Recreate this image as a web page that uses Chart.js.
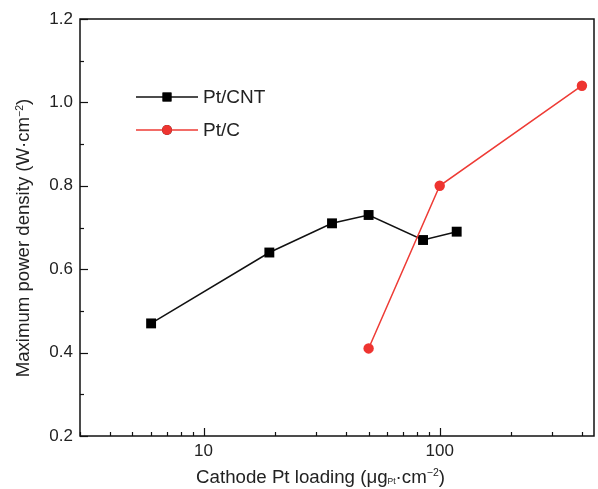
<!DOCTYPE html>
<html>
<head>
<meta charset="utf-8">
<script src="https://cdn.jsdelivr.net/npm/chart.js@4/dist/chart.umd.min.js"></script>
<style>
html,body{margin:0;padding:0;background:#fff;overflow:hidden;}
#wrap{width:598px;height:489px;position:relative;overflow:hidden;}
canvas{display:block;}
</style>
</head>
<body>
<div id="wrap"><canvas id="c" width="601" height="489"></canvas></div>
<script>
// Data
const cntLoading = [6, 19, 35, 50, 85, 118];
const cntPower   = [0.47, 0.64, 0.71, 0.73, 0.67, 0.69];
const cLoading   = [50, 100, 400];
const cPower     = [0.41, 0.80, 1.04];
const seriesNames = ['Pt/CNT', 'Pt/C'];
const xTickValues = [3,4,5,6,7,8,9,10,20,30,40,50,60,70,80,90,100,200,300,400];
const xLabelValues = [10, 100];
const yLabelValues = [0.2, 0.4, 0.6, 0.8, 1.0, 1.2];

const FONT = '"Liberation Sans", Arial, sans-serif';
const TXT = '#222';

const frameAndTicks = {
  id: 'frameAndTicks',
  afterDraw(chart) {
    const ctx = chart.ctx, a = chart.chartArea;
    const xs = chart.scales.x, ys = chart.scales.y;
    ctx.save();
    ctx.strokeStyle = '#111';
    ctx.lineWidth = 1.5;
    ctx.strokeRect(a.left, a.top, a.right - a.left, a.bottom - a.top);
    ctx.lineWidth = 1.2;
    xs.ticks.forEach(t => {
      const px = Math.round(xs.getPixelForValue(t.value)) + 0.5;
      const major = xLabelValues.includes(t.value);
      const len = major ? 8 : 4;
      ctx.beginPath();
      ctx.moveTo(px, a.bottom);
      ctx.lineTo(px, a.bottom - len);
      ctx.stroke();
    });
    ys.ticks.forEach(t => {
      const py = Math.round(ys.getPixelForValue(t.value)) + 0.5;
      const major = yLabelValues.some(v => Math.abs(v - t.value) < 1e-6);
      const len = major ? 8 : 4;
      ctx.beginPath();
      ctx.moveTo(a.left, py);
      ctx.lineTo(a.left + len, py);
      ctx.stroke();
    });
    // legend
    const ds = chart.data.datasets;
    const legY = [97, 130];
    const legR = [6.3, 5];
    ds.forEach((d, i) => {
      const y = legY[i];
      ctx.strokeStyle = d.borderColor;
      ctx.lineWidth = d.borderWidth;
      ctx.beginPath();
      ctx.moveTo(136, y);
      ctx.lineTo(198, y);
      ctx.stroke();
      Chart.helpers.drawPoint(ctx, {
        pointStyle: d.pointStyle, radius: legR[i], rotation: 0, borderWidth: 0
      }, 167, y);
      ctx.fillStyle = d.pointBackgroundColor;
      ctx.fill();
      ctx.fillStyle = TXT;
      ctx.font = '19px ' + FONT;
      ctx.textBaseline = 'middle';
      ctx.textAlign = 'left';
      ctx.fillText(d.label, 203, y + 1);
    });
    // x axis title with subscript
    const parts = [
      {t: 'Cathode Pt loading (\u03bcg', s: 18.7, dy: 0},
      {t: 'Pt', s: 8.5, dy: 1},
      {t: '\u00b7cm', s: 18.7, dy: 0},
      {t: '\u22122', s: 10.5, dy: -6.5},
      {t: ')', s: 18.7, dy: 0}
    ];
    let total = 0;
    parts.forEach(p => { ctx.font = p.s + 'px ' + FONT; total += ctx.measureText(p.t).width; });
    let x = 320.5 - total / 2;
    const by = 482.5;
    ctx.fillStyle = TXT;
    ctx.textBaseline = 'alphabetic';
    ctx.textAlign = 'left';
    parts.forEach(p => {
      ctx.font = p.s + 'px ' + FONT;
      ctx.fillText(p.t, x, by + p.dy);
      x += ctx.measureText(p.t).width;
    });
    // y axis title with superscript
    ctx.save();
    ctx.translate(29, 238);
    ctx.rotate(-Math.PI / 2);
    const yparts = [
      {t: 'Maximum power density (W\u00b7cm', s: 18.6, dy: 0},
      {t: '\u22122', s: 10.5, dy: -6.5},
      {t: ')', s: 18.6, dy: 0}
    ];
    total = 0;
    yparts.forEach(p => { ctx.font = p.s + 'px ' + FONT; total += ctx.measureText(p.t).width; });
    x = -total / 2;
    yparts.forEach(p => {
      ctx.font = p.s + 'px ' + FONT;
      ctx.fillText(p.t, x, p.dy);
      x += ctx.measureText(p.t).width;
    });
    ctx.restore();
    ctx.restore();
  }
};

new Chart(document.getElementById('c'), {
  type: 'scatter',
  data: {
    datasets: [
      {
        label: seriesNames[0],
        data: cntLoading.map((v, i) => ({x: v, y: cntPower[i]})),
        showLine: true,
        borderColor: '#111',
        borderWidth: 1.5,
        pointStyle: 'rect',
        pointRadius: 7,
        pointHoverRadius: 7,
        pointBackgroundColor: '#000',
        pointBorderWidth: 0,
        order: 2
      },
      {
        label: seriesNames[1],
        data: cLoading.map((v, i) => ({x: v, y: cPower[i]})),
        showLine: true,
        borderColor: '#ee3b35',
        borderWidth: 1.5,
        pointStyle: 'circle',
        pointRadius: 5.2,
        pointHoverRadius: 5.2,
        pointBackgroundColor: '#ee3430',
        pointBorderWidth: 0,
        order: 1
      }
    ]
  },
  options: {
    responsive: false,
    animation: false,
    events: [],
    layout: {padding: {left: 0, right: 2, top: 19, bottom: 0}},
    plugins: {legend: {display: false}, tooltip: {enabled: false}},
    scales: {
      x: {
        type: 'logarithmic',
        min: 3, max: 450,
        afterBuildTicks(s) { s.ticks = xTickValues.map(v => ({value: v})); },
        afterFit(s) { s.height = 53; s.paddingLeft = 0; s.paddingRight = 0; },
        grid: {display: false, drawTicks: false},
        border: {display: false},
        ticks: {
          autoSkip: false, maxRotation: 0, padding: 5,
          color: TXT, font: {family: FONT, size: 17},
          callback: (v) => xLabelValues.includes(v) ? String(v) : ''
        }
      },
      y: {
        min: 0.2, max: 1.2,
        afterBuildTicks(s) {
          const t = [];
          for (let i = 2; i <= 12; i++) t.push({value: i / 10});
          s.ticks = t;
        },
        afterFit(s) { s.width = 80; },
        grid: {display: false, drawTicks: false},
        border: {display: false},
        ticks: {
          autoSkip: false, padding: 7,
          color: TXT, font: {family: FONT, size: 17},
          callback: (v) => yLabelValues.some(l => Math.abs(l - v) < 1e-6) ? v.toFixed(1) : ''
        }
      }
    }
  },
  plugins: [frameAndTicks]
});
</script>
</body>
</html>
